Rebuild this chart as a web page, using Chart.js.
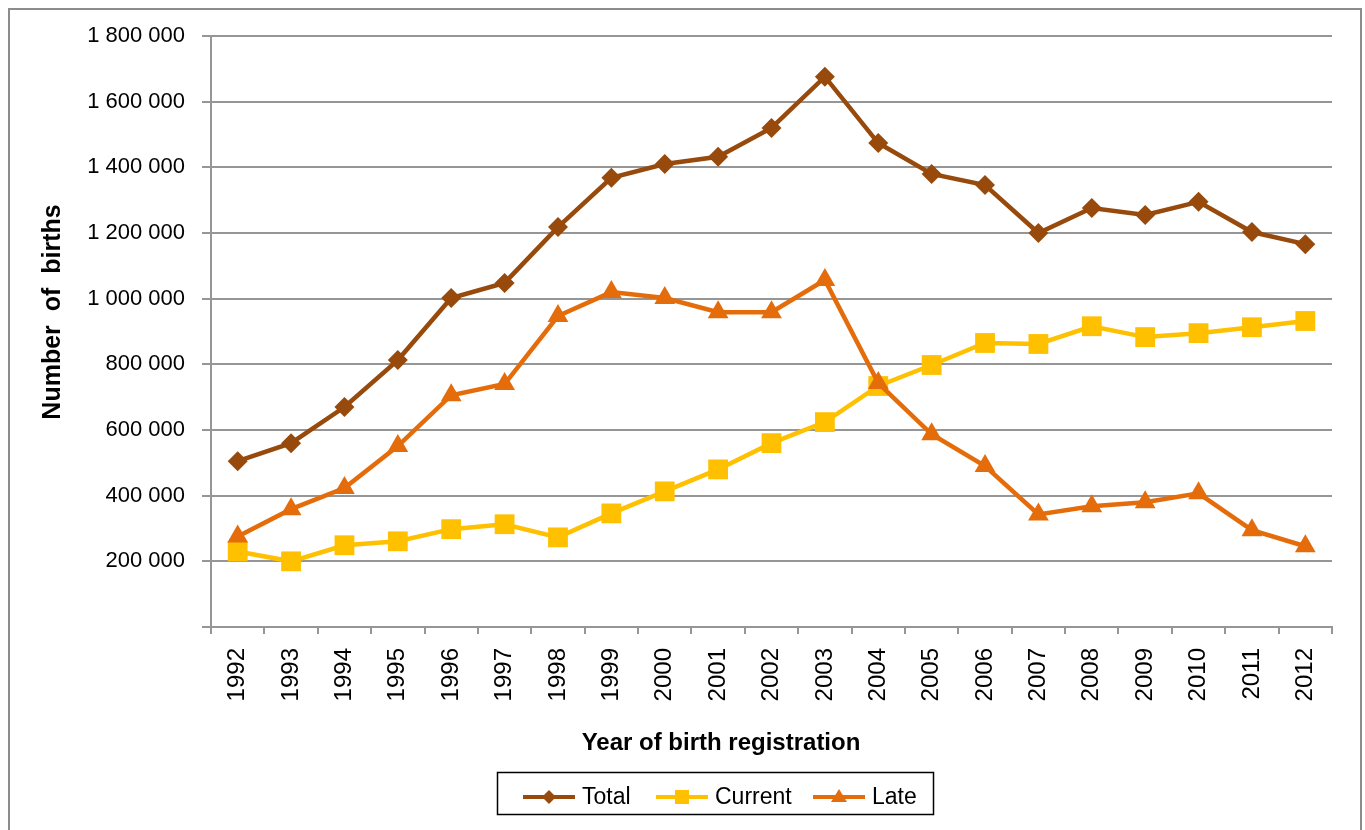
<!DOCTYPE html>
<html>
<head>
<meta charset="utf-8">
<title>Number of births by year of birth registration</title>
<script src="https://cdn.jsdelivr.net/npm/chart.js@4/dist/chart.umd.min.js"></script>
<style>
  html, body { margin: 0; padding: 0; background: #fff; }
  #wrap { width: 1365px; height: 830px; }
</style>
</head>
<body>
<div id="wrap"><canvas id="births-chart" width="1365" height="830"></canvas></div>
<script>
// values
const years = ["1992", "1993", "1994", "1995", "1996", "1997", "1998", "1999", "2000", "2001", "2002",
               "2003", "2004", "2005", "2006", "2007", "2008", "2009", "2010", "2011", "2012"];
const total = [505000, 560000, 670000, 813000, 1002000, 1048000, 1218000, 1368000, 1410000, 1432000, 1520000,
               1676000, 1474000, 1380000, 1346000, 1200000, 1276000, 1255000, 1295000, 1203000, 1166000];
const current = [230000, 200000, 249000, 261000, 298000, 313000, 273000, 346000, 413000, 480000, 560000,
                 624000, 734000, 798000, 865000, 862000, 916000, 883000, 895000, 913000, 932000];
const late = [276000, 359000, 423000, 551000, 706000, 740000, 947000, 1020000, 1002000, 959000, 959000,
              1057000, 743000, 587000, 490000, 343000, 368000, 380000, 407000, 295000, 246000];
const yTicks = [0, 200000, 400000, 600000, 800000, 1000000, 1200000, 1400000, 1600000, 1800000];

const FONT = '"Liberation Sans", Arial, sans-serif';
const GRID = "#969696";
const colors = { total: "#974A0B", current: "#FFC000", late: "#E46C0A" };

function spaced(v) {
    return String(v).replace(/\B(?=(\d{3})+(?!\d))/g, " ");
}

// frame, axis titles and the boxed legend are drawn by hand
const decor = {
    id: "decor",
    beforeDraw(chart) {
        const ctx = chart.ctx;
        ctx.save();
        ctx.fillStyle = "#fff";
        ctx.fillRect(0, 0, chart.width, chart.height);
        ctx.strokeStyle = "#8c8c8c";
        ctx.lineWidth = 2;
        ctx.strokeRect(9, 9, 1352, 900);
        ctx.restore();
    },
    afterDraw(chart) {
        const ctx = chart.ctx;
        ctx.save();
        ctx.fillStyle = "#000";
        ctx.textAlign = "center";
        ctx.textBaseline = "middle";

        // y title
        ctx.font = "bold 25px " + FONT;
        ctx.translate(53, 312);
        ctx.rotate(-Math.PI / 2);
        ctx.fillText("Number  of  births", 0, 0);
        ctx.setTransform(1, 0, 0, 1, 0, 0);

        // x title
        ctx.font = "bold 24px " + FONT;
        ctx.fillText("Year of birth registration", 721, 743);

        // legend box
        ctx.strokeStyle = "#000";
        ctx.lineWidth = 1.5;
        ctx.strokeRect(497.5, 772.5, 436, 42);

        const items = [
            { label: "Total", color: colors.total, shape: "diamond", x0: 523 },
            { label: "Current", color: colors.current, shape: "square", x0: 656 },
            { label: "Late", color: colors.late, shape: "triangle", x0: 813 }
        ];
        const ly = 797;
        ctx.font = "23px " + FONT;
        ctx.textAlign = "left";
        items.forEach(it => {
            ctx.strokeStyle = it.color;
            ctx.fillStyle = it.color;
            ctx.lineWidth = 4;
            ctx.beginPath();
            ctx.moveTo(it.x0, ly);
            ctx.lineTo(it.x0 + 52, ly);
            ctx.stroke();
            const cx = it.x0 + 26;
            ctx.beginPath();
            if (it.shape === "diamond") {
                ctx.moveTo(cx, ly - 7); ctx.lineTo(cx + 7, ly); ctx.lineTo(cx, ly + 7); ctx.lineTo(cx - 7, ly);
            } else if (it.shape === "square") {
                ctx.rect(cx - 7, ly - 7, 14, 14);
            } else {
                ctx.moveTo(cx, ly - 8); ctx.lineTo(cx + 8, ly + 5); ctx.lineTo(cx - 8, ly + 5);
            }
            ctx.closePath();
            ctx.fill();
            ctx.fillStyle = "#000";
            ctx.fillText(it.label, it.x0 + 59, ly + 1);
        });
        ctx.restore();
    }
};

function series(label, data, color, style, radius) {
    return {
        label: label,
        data: data,
        borderColor: color,
        backgroundColor: color,
        borderWidth: 4.5,
        pointStyle: style,
        pointRadius: radius,
        pointBorderWidth: 0,
        pointBackgroundColor: color,
        tension: 0
    };
}

const ctx = document.getElementById("births-chart").getContext("2d");
new Chart(ctx, {
    type: "line",
    data: {
        labels: years,
        datasets: [
            series("Late", late, colors.late, "triangle", 12),
            series("Current", current, colors.current, "rect", 14),
            series("Total", total, colors.total, "rectRot", 10)
        ]
    },
    options: {
        responsive: false,
        animation: false,
        devicePixelRatio: 1,
        layout: { padding: { top: 36, right: 33, left: 0, bottom: 0 } },
        plugins: {
            legend: { display: false },
            tooltip: { enabled: false }
        },
        scales: {
            x: {
                offset: true,
                grid: {
                    offset: true,
                    drawOnChartArea: false,
                    drawTicks: true,
                    tickLength: 7,
                    color: GRID,
                    lineWidth: 2
                },
                border: { display: true, color: GRID, width: 2 },
                ticks: {
                    color: "#000",
                    font: { family: FONT, size: 24 },
                    minRotation: 90,
                    maxRotation: 90,
                    padding: 14,
                    autoSkip: false
                },
                afterFit(scale) { scale.height = 203; }
            },
            y: {
                min: 0,
                max: 1800000,
                afterBuildTicks(scale) {
                    scale.ticks = yTicks.map(v => ({ value: v }));
                },
                grid: {
                    color: GRID,
                    lineWidth: 2,
                    tickLength: 9,
                    tickColor: GRID
                },
                border: { display: true, color: GRID, width: 2 },
                ticks: {
                    color: "#000",
                    font: { family: FONT, size: 22 },
                    padding: 17,
                    callback: v => (v === 0 ? "" : spaced(v))
                },
                afterFit(scale) { scale.width = 211; }
            }
        }
    },
    plugins: [decor]
});
</script>
</body>
</html>
